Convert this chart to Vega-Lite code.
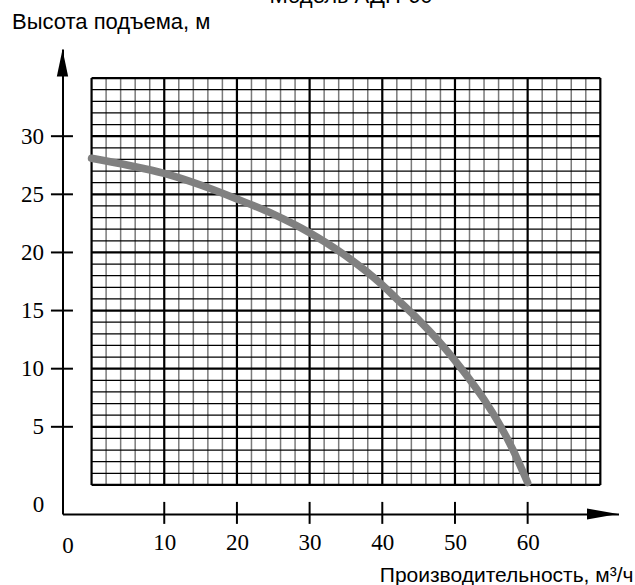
{
  "$schema": "https://vega.github.io/schema/vega-lite/v6.json",
  "width": 556,
  "height": 465,
  "autosize": {"type": "none"},
  "padding": {"left": 62.5, "top": 49, "right": 16.5, "bottom": 71},
  "background": "white",
  "config": {"view": {"stroke": null}},
  "datasets": {
    "vminor": [{"q": 2}, {"q": 4}, {"q": 6}, {"q": 8}, {"q": 12}, {"q": 14}, {"q": 16}, {"q": 18}, {"q": 22}, {"q": 24}, {"q": 26}, {"q": 28}, {"q": 32}, {"q": 34}, {"q": 36}, {"q": 38}, {"q": 42}, {"q": 44}, {"q": 46}, {"q": 48}, {"q": 52}, {"q": 54}, {"q": 56}, {"q": 58}, {"q": 62}, {"q": 64}, {"q": 66}, {"q": 68}],
    "hminor": [{"h": 1}, {"h": 2}, {"h": 3}, {"h": 4}, {"h": 6}, {"h": 7}, {"h": 8}, {"h": 9}, {"h": 11}, {"h": 12}, {"h": 13}, {"h": 14}, {"h": 16}, {"h": 17}, {"h": 18}, {"h": 19}, {"h": 21}, {"h": 22}, {"h": 23}, {"h": 24}, {"h": 26}, {"h": 27}, {"h": 28}, {"h": 29}, {"h": 31}, {"h": 32}, {"h": 33}, {"h": 34}],
    "vmajor": [{"q": 0}, {"q": 10}, {"q": 20}, {"q": 30}, {"q": 40}, {"q": 50}, {"q": 60}, {"q": 70}],
    "hmajor": [{"h": 0}, {"h": 5}, {"h": 10}, {"h": 15}, {"h": 20}, {"h": 25}, {"h": 30}, {"h": 35}],
    "curve": [
      {"q": 0, "h": 28.1}, {"q": 5, "h": 27.5}, {"q": 10, "h": 26.8}, {"q": 15, "h": 25.8},
      {"q": 20, "h": 24.6}, {"q": 25, "h": 23.3}, {"q": 30, "h": 21.7}, {"q": 35, "h": 19.7},
      {"q": 40, "h": 17.2}, {"q": 42, "h": 16.0}, {"q": 45, "h": 14.2}, {"q": 48, "h": 12.2},
      {"q": 50, "h": 10.7}, {"q": 52, "h": 9.1}, {"q": 54, "h": 7.35}, {"q": 56, "h": 5.35},
      {"q": 58, "h": 3.0}, {"q": 60, "h": 0.2}
    ],
    "xticks": [{"q": 10}, {"q": 20}, {"q": 30}, {"q": 40}, {"q": 50}, {"q": 60}],
    "yticks": [{"h": 5}, {"h": 10}, {"h": 15}, {"h": 20}, {"h": 25}, {"h": 30}],
    "one": [{"k": 1}]
  },
  "layer": [
    {
      "data": {"name": "vminor"},
      "mark": {"type": "rule", "color": "#7a7a7a", "strokeWidth": 1.5},
      "encoding": {
        "x": {"field": "q", "type": "quantitative", "scale": {"domain": [-4, 72.5], "nice": false, "zero": false}},
        "y": {"datum": 0, "scale": {"domain": [-2.5, 37.5], "nice": false, "zero": false}},
        "y2": {"datum": 35}
      }
    },
    {
      "data": {"name": "hminor"},
      "mark": {"type": "rule", "color": "black", "strokeWidth": 1.2},
      "encoding": {
        "y": {"field": "h", "type": "quantitative", "scale": {"domain": [-2.5, 37.5], "nice": false, "zero": false}},
        "x": {"datum": 0, "scale": {"domain": [-4, 72.5], "nice": false, "zero": false}},
        "x2": {"datum": 70}
      }
    },
    {
      "data": {"name": "vmajor"},
      "mark": {"type": "rule", "color": "black", "strokeWidth": 2.2},
      "encoding": {
        "x": {"field": "q", "type": "quantitative", "scale": {"domain": [-4, 72.5], "nice": false, "zero": false}},
        "y": {"datum": 0, "scale": {"domain": [-2.5, 37.5], "nice": false, "zero": false}},
        "y2": {"datum": 35}
      }
    },
    {
      "data": {"name": "hmajor"},
      "mark": {"type": "rule", "color": "black", "strokeWidth": 2.2},
      "encoding": {
        "y": {"field": "h", "type": "quantitative", "scale": {"domain": [-2.5, 37.5], "nice": false, "zero": false}},
        "x": {"datum": 0, "scale": {"domain": [-4, 72.5], "nice": false, "zero": false}},
        "x2": {"datum": 70}
      }
    },
    {
      "data": {"name": "curve"},
      "mark": {"type": "line", "color": "#808080", "strokeWidth": 7.5, "strokeCap": "round", "interpolate": "monotone"},
      "encoding": {
        "x": {
          "field": "q",
          "type": "quantitative",
          "scale": {"domain": [-4, 72.5], "nice": false, "zero": false},
          "axis": {
            "values": [10, 20, 30, 40, 50, 60],
            "ticks": false,
            "tickSize": 0,
            "grid": false,
            "labelPadding": 17,
            "labelFont": "Liberation Serif",
            "labelFontSize": 23,
            "labelColor": "black",
            "labelFlush": false,
            "labelOverlap": false,
            "domainColor": "black",
            "domainWidth": 2,
            "title": "Производительность, м³/ч",
            "titleFont": "Liberation Sans",
            "titleFontSize": 21,
            "titleFontWeight": "normal",
            "titleColor": "black",
            "titleAlign": "right",
            "titleBaseline": "alphabetic",
            "titleX": 570.5,
            "titleY": 67
          }
        },
        "y": {
          "field": "h",
          "type": "quantitative",
          "scale": {"domain": [-2.5, 37.5], "nice": false, "zero": false},
          "axis": {
            "values": [5, 10, 15, 20, 25, 30],
            "ticks": false,
            "tickSize": 0,
            "grid": false,
            "labelPadding": 19,
            "labelFont": "Liberation Serif",
            "labelFontSize": 23,
            "labelColor": "black",
            "labelFlush": false,
            "labelOverlap": false,
            "domainColor": "black",
            "domainWidth": 2,
            "title": "Высота подъема, м",
            "titleFont": "Liberation Sans",
            "titleFontSize": 22,
            "titleFontWeight": "normal",
            "titleColor": "black",
            "titleAngle": 0,
            "titleAlign": "left",
            "titleBaseline": "alphabetic",
            "titleX": -51,
            "titleY": -21
          }
        }
      }
    },
    {
      "data": {"name": "xticks"},
      "mark": {"type": "rule", "color": "black", "strokeWidth": 2},
      "encoding": {
        "x": {"field": "q", "type": "quantitative", "scale": {"domain": [-4, 72.5], "nice": false, "zero": false}},
        "y": {"datum": -1.46, "scale": {"domain": [-2.5, 37.5], "nice": false, "zero": false}},
        "y2": {"datum": -3.35}
      }
    },
    {
      "data": {"name": "yticks"},
      "mark": {"type": "rule", "color": "black", "strokeWidth": 2},
      "encoding": {
        "y": {"field": "h", "type": "quantitative", "scale": {"domain": [-2.5, 37.5], "nice": false, "zero": false}},
        "x": {"datum": -5.59, "scale": {"domain": [-4, 72.5], "nice": false, "zero": false}},
        "x2": {"datum": -2.56}
      }
    },
    {
      "data": {"name": "one"},
      "mark": {"type": "point", "shape": "M0,-1L0.42,1L-0.42,1Z", "filled": true, "color": "black", "opacity": 1, "size": 729, "strokeWidth": 0},
      "encoding": {
        "x": {"datum": -4, "scale": {"domain": [-4, 72.5], "nice": false, "zero": false}},
        "y": {"datum": 36.3, "scale": {"domain": [-2.5, 37.5], "nice": false, "zero": false}}
      }
    },
    {
      "data": {"name": "one"},
      "mark": {"type": "point", "shape": "M1,0L-1,0.35L-1,-0.35Z", "filled": true, "color": "black", "opacity": 1, "size": 961, "strokeWidth": 0},
      "encoding": {
        "x": {"datum": 70.3, "scale": {"domain": [-4, 72.5], "nice": false, "zero": false}},
        "y": {"datum": -2.5, "scale": {"domain": [-2.5, 37.5], "nice": false, "zero": false}}
      }
    },
    {
      "data": {"name": "one"},
      "mark": {"type": "text", "font": "Liberation Serif", "fontSize": 23, "color": "black", "align": "center", "baseline": "top", "dy": 1},
      "encoding": {
        "x": {"datum": -3.24, "scale": {"domain": [-4, 72.5], "nice": false, "zero": false}},
        "y": {"datum": -4.2, "scale": {"domain": [-2.5, 37.5], "nice": false, "zero": false}},
        "text": {"value": "0"}
      }
    },
    {
      "data": {"name": "one"},
      "mark": {"type": "text", "font": "Liberation Serif", "fontSize": 23, "color": "black", "align": "right", "baseline": "middle"},
      "encoding": {
        "x": {"datum": -6.5, "scale": {"domain": [-4, 72.5], "nice": false, "zero": false}},
        "y": {"datum": -1.73, "scale": {"domain": [-2.5, 37.5], "nice": false, "zero": false}},
        "text": {"value": "0"}
      }
    },
    {
      "data": {"name": "one"},
      "mark": {"type": "text", "font": "Liberation Sans", "fontSize": 22, "color": "black", "align": "center", "baseline": "alphabetic"},
      "encoding": {
        "x": {"datum": 35.7, "scale": {"domain": [-4, 72.5], "nice": false, "zero": false}},
        "y": {"datum": 41.45, "scale": {"domain": [-2.5, 37.5], "nice": false, "zero": false}},
        "text": {"value": "Модель АДП-60"}
      }
    }
  ]
}
